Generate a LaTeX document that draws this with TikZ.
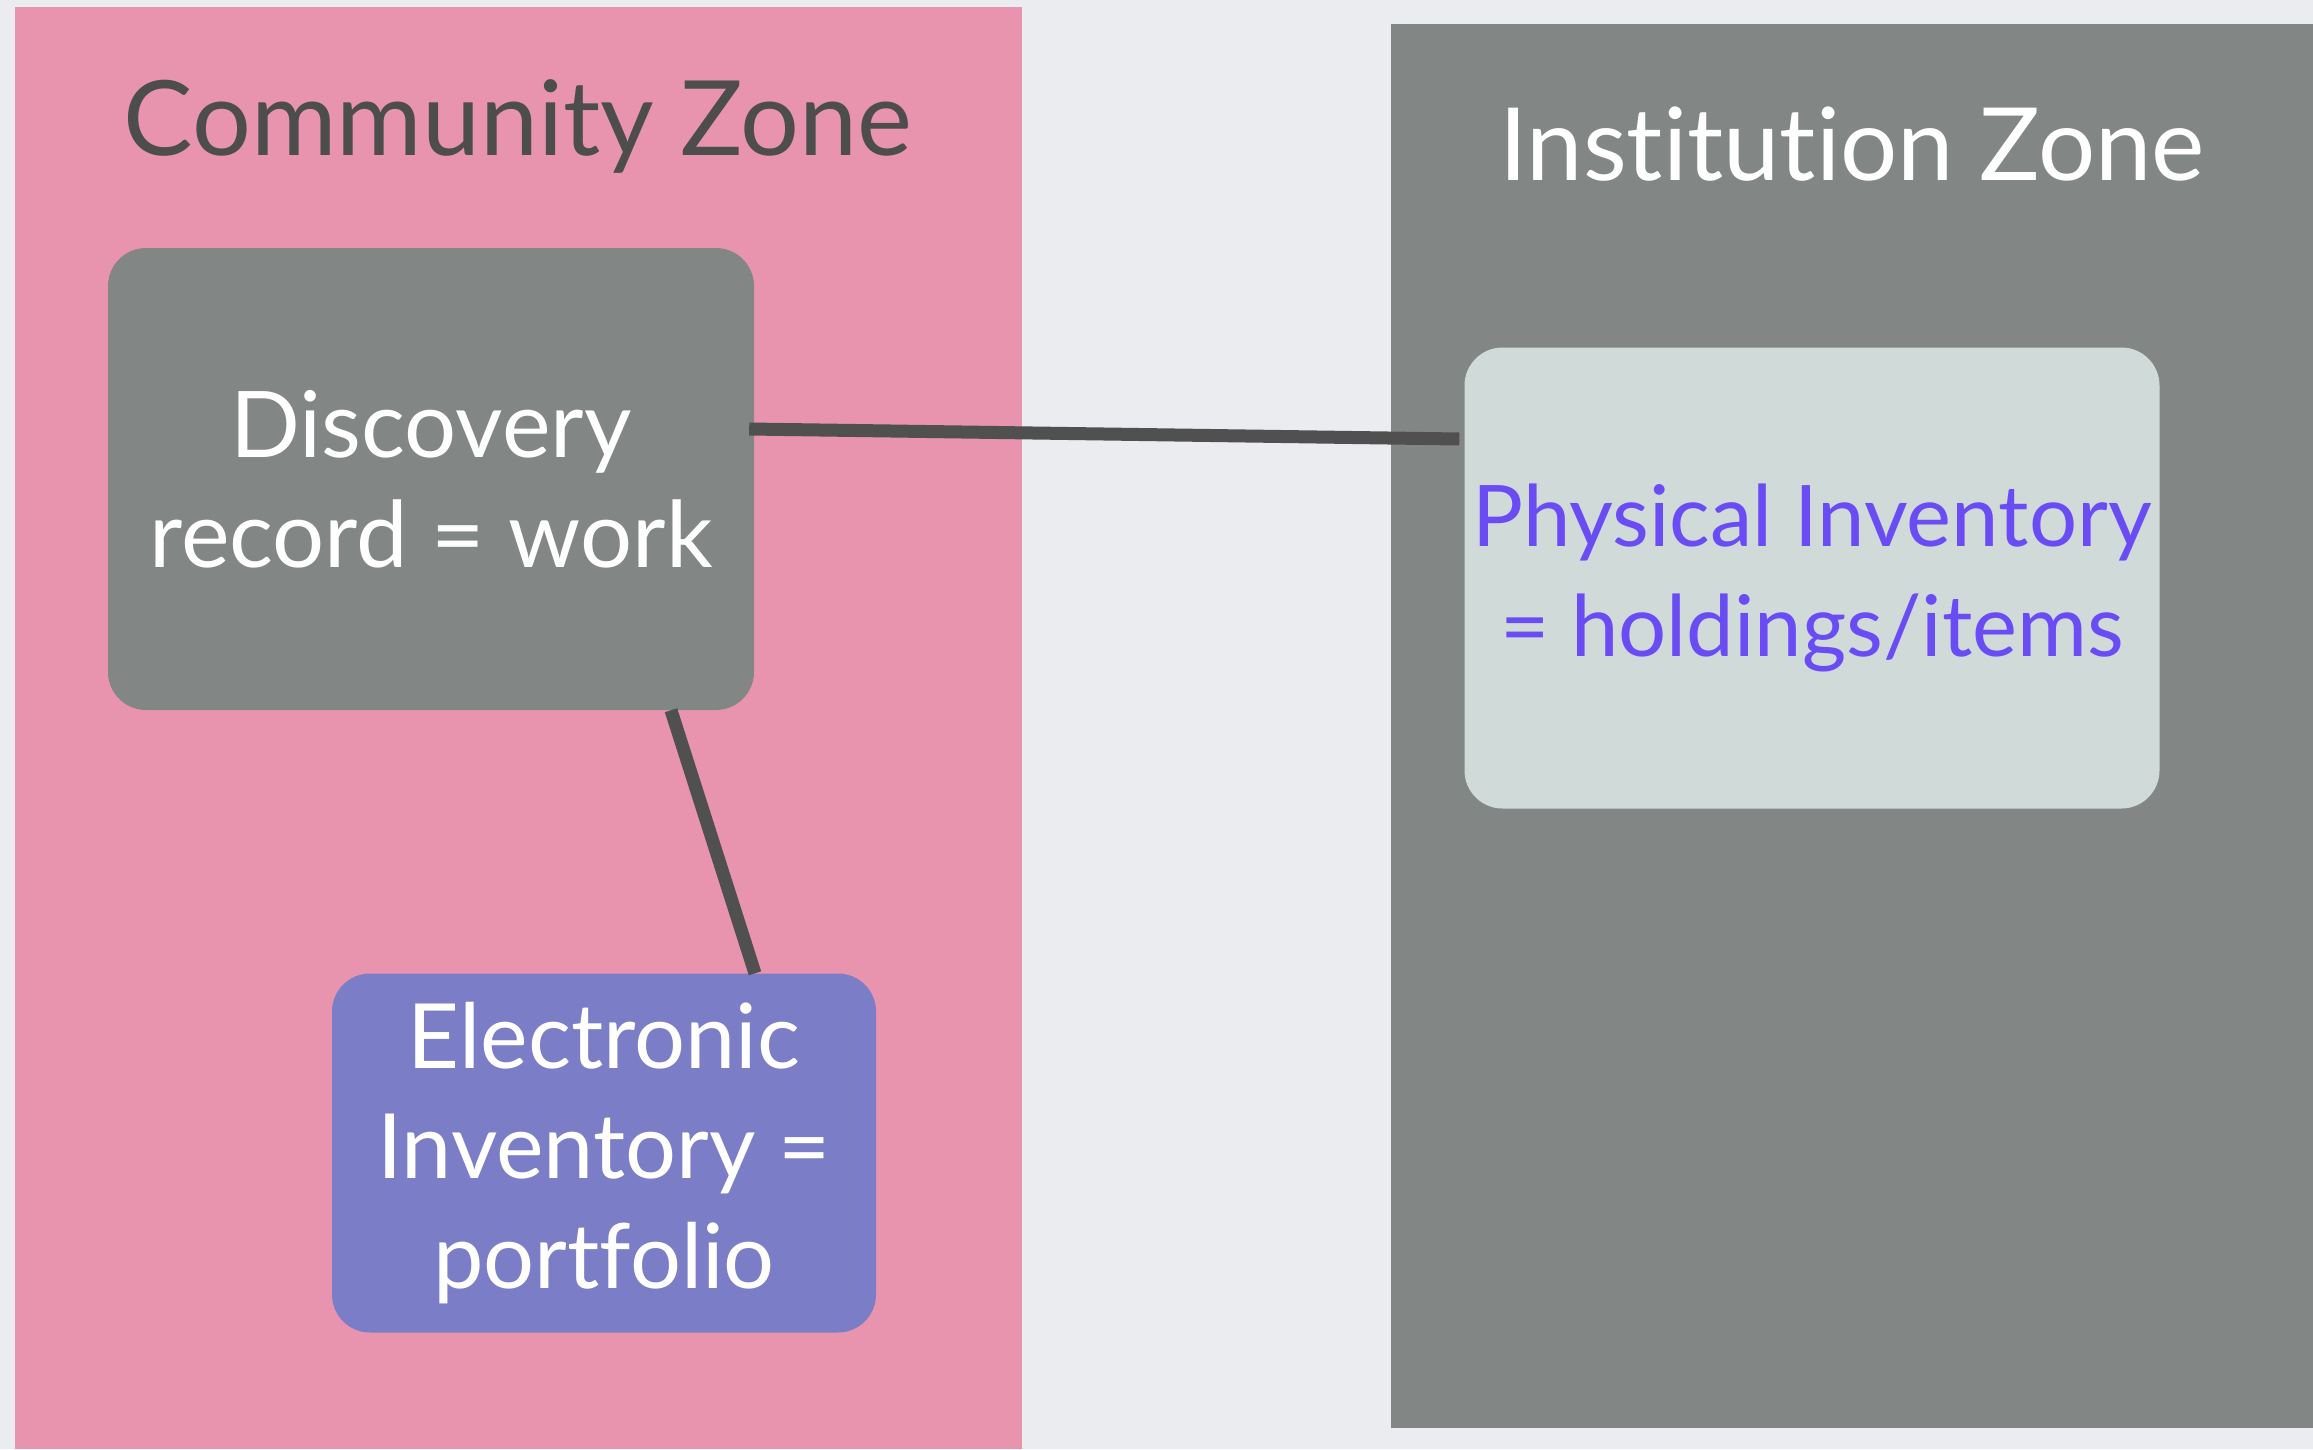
\documentclass[tikz,border=0pt]{standalone}
\usepackage{fontspec}
\setmainfont{Lato}[Ligatures=NoCommon]
\definecolor{bgcol}{HTML}{EAECEF}
\definecolor{zonepink}{HTML}{E994AE}
\definecolor{zonegray}{HTML}{828785}
\definecolor{eleccol}{HTML}{7B7EC6}
\definecolor{physcol}{HTML}{D0DAD8}
\definecolor{phystext}{HTML}{6A4CF5}
\definecolor{titlecol}{HTML}{4D4D4D}
\definecolor{linkcol}{HTML}{505050}
\begin{document}
\begin{tikzpicture}[x=1pt,y=-1pt,font=\fontsize{90}{110}\selectfont,
	card/.style={rounded corners=38pt,inner sep=0pt,align=center,text=white},
	title/.style={anchor=base,font=\fontsize{104}{120}\selectfont},
	link/.style={line width=13pt,linkcol}]
			\useasboundingbox (0,0) rectangle (2313,1449);
			\fill[bgcol] (0,0) rectangle (2313,1449);
			\fill[zonepink] (15,7) rectangle (1022,1449);
			\fill[zonegray] (1391,24) rectangle (2313,1428);
			\node[title,text=titlecol] (ctitle) at (518,155) {Community Zone};
			\node[title,text=white,font=\fontsize{101}{120}\selectfont] (ititle) at (1852,180) {Institution Zone};
			\node[card,fill=zonegray,minimum width=646pt,minimum height=462pt,font=\fontsize{92}{110}\selectfont] (disc) at (431,479) {Discovery\\record = work};
			\node[card,fill=eleccol,minimum width=544pt,minimum height=359pt] (elec) at (604,1153) {Electronic\\Inventory =\\portfolio};
			\node[card,fill=physcol,text=phystext,minimum width=695pt,minimum height=461pt,font=\fontsize{85}{110}\selectfont] (phys) at (1812,578) {Physical Inventory\\= holdings/items};
			\draw[link] ([xshift=-5pt,yshift=50pt]disc.east) -- ([xshift=-5pt,yshift=139pt]phys.west);
			\draw[link] ([xshift=240pt]disc.south) -- ([xshift=151pt]elec.north);
	\end{tikzpicture}
\end{document}
